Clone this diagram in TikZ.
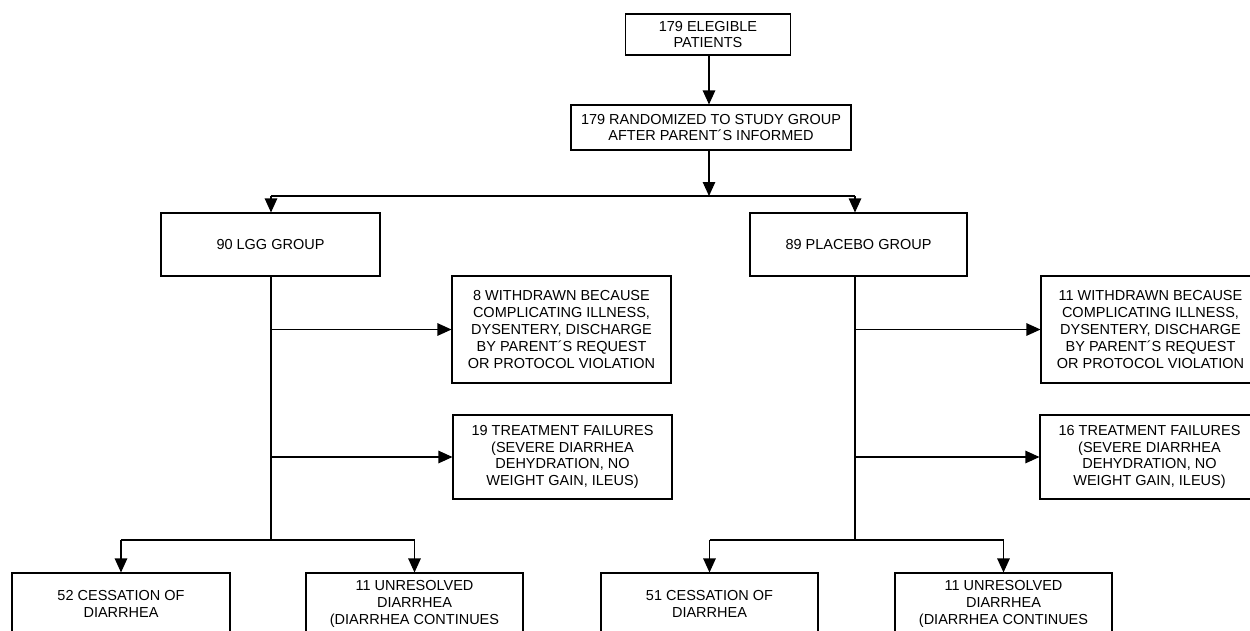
\documentclass[tikz,border=0pt]{standalone}
\usepackage{fontspec}
\setmainfont{Liberation Sans}
\usetikzlibrary{arrows.meta,positioning}

\begin{document}
\begin{tikzpicture}[x=1pt, y=-1pt,
                >={Triangle[length=14pt,width=12.5pt]},
                line width=1.1pt,
                every node/.append style={align=center, font=\fontsize{14.5}{16.8}\selectfont},
                box/.style={draw, line width=1.1pt, inner sep=0pt}]

\useasboundingbox (0,0) rectangle (1250,630);
\clip (0,0) rectangle (1250,630);

\node[box, minimum width=165pt, minimum height=41pt] (elig) at (708,34.5) {179 ELEGIBLE\\PATIENTS};
\node[box, minimum width=280pt, minimum height=45pt] (rand) at (711,127.5) {179 RANDOMIZED TO STUDY GROUP\\AFTER PARENT´S INFORMED};

\node[box, minimum width=219pt, minimum height=63pt] (lgg) at (270.5,244.5) {90 LGG GROUP};
\node[box, minimum width=217pt, minimum height=63pt] (plc) at (858.5,244.5) {89 PLACEBO GROUP};

% withdrawals and failures
\node[box, minimum width=219pt, minimum height=107pt] (wd1) at (561.5,329.5) {8 WITHDRAWN BECAUSE\\COMPLICATING ILLNESS,\\DYSENTERY, DISCHARGE\\BY PARENT´S REQUEST\\OR PROTOCOL VIOLATION};
\node[box, minimum width=219pt, minimum height=84pt] (tf1) at (562.5,457) {19 TREATMENT FAILURES\\(SEVERE DIARRHEA\\DEHYDRATION, NO\\WEIGHT GAIN, ILEUS)};
\node[box, minimum width=219pt, minimum height=107pt] (wd2) at (1150.5,329.5) {11 WITHDRAWN BECAUSE\\COMPLICATING ILLNESS,\\DYSENTERY, DISCHARGE\\BY PARENT´S REQUEST\\OR PROTOCOL VIOLATION};
\node[box, minimum width=219pt, minimum height=84pt] (tf2) at (1149.5,457) {16 TREATMENT FAILURES\\(SEVERE DIARRHEA\\DEHYDRATION, NO\\WEIGHT GAIN, ILEUS)};

% outcomes
\node[box, minimum width=218pt, minimum height=62pt] (ces1) at (121,604) {52 CESSATION OF\\DIARRHEA};
\node[box, minimum width=217pt, minimum height=62pt] (unr1) at (414.5,604) {11 UNRESOLVED\\DIARRHEA\\(DIARRHEA CONTINUES};
\node[box, minimum width=217pt, minimum height=62pt] (ces2) at (709.5,604) {51 CESSATION OF\\DIARRHEA};
\node[box, minimum width=217pt, minimum height=62pt] (unr2) at (1003.5,604) {11 UNRESOLVED\\DIARRHEA\\(DIARRHEA CONTINUES};

\coordinate (split) at (709,196);
\coordinate (sl) at (271,196);
\coordinate (sr) at (855,196);
\coordinate (lend) at (271,540);
\coordinate (rend) at (855,540);

\draw[->] (elig.south -| split) -- (rand.north -| split);
\draw[->] (rand.south -| split) -- (split);
\draw (sl) -- (sr);
\draw[->] (sl) -- (lgg.north -| sl);
\draw[->] (sr) -- (plc.north -| sr);

\draw (lgg.south -| sl) -- (lend);
\draw[->] (wd1.west -| lend) -- (wd1.west);
\draw[->] (tf1.west -| lend) -- (tf1.west);
\draw (plc.south -| sr) -- (rend);
\draw[->] (wd2.west -| rend) -- (wd2.west);
\draw[->] (tf2.west -| rend) -- (tf2.west);

\draw[->] (lend -| ces1.north) -- (lend -| unr1.north) -- (unr1.north);
\draw[->] (lend -| ces1.north) -- (ces1.north);
\draw[->] (rend -| ces2.north) -- (rend -| unr2.north) -- (unr2.north);
\draw[->] (rend -| ces2.north) -- (ces2.north);

\end{tikzpicture}
\end{document}
